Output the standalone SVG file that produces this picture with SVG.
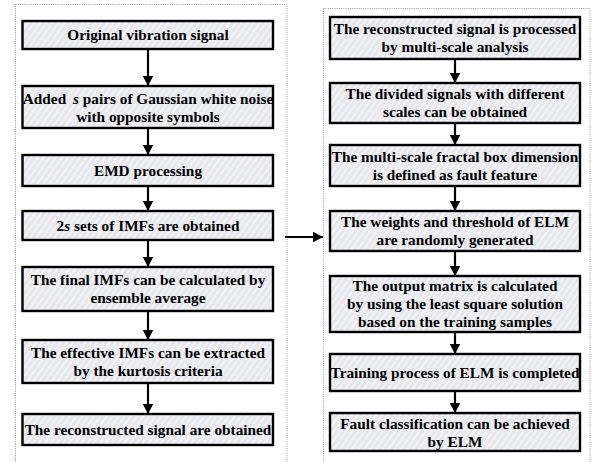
<svg xmlns="http://www.w3.org/2000/svg" width="596" height="462" viewBox="0 0 596 462">
<defs>
<pattern id="hatch" patternUnits="userSpaceOnUse" width="5" height="5" patternTransform="rotate(35)">
<rect width="5" height="5" fill="#e7e7ee"/>
<line x1="1" y1="0" x2="1" y2="5" stroke="#f6f6f9" stroke-width="1.6"/>
</pattern>
<marker id="ah" markerUnits="userSpaceOnUse" markerWidth="12" markerHeight="12" refX="10.5" refY="5.5" orient="auto">
<path d="M0,0 L10.5,5.5 L0,11 z" fill="#000"/>
</marker>
<style>
.box{fill:url(#hatch);stroke:#000;stroke-width:2.4}
.panel{fill:none;stroke:#9a9a9a;stroke-width:1;stroke-dasharray:1 1.2}
.t{font-family:'Liberation Serif','Times New Roman',serif;font-weight:700;font-size:15.3px;fill:#000;text-anchor:middle}
.c{stroke:#000;stroke-width:2.2;fill:none;marker-end:url(#ah)}
.i{font-style:italic}
</style>
</defs>
<rect width="596" height="462" fill="#fff"/>
<rect class="panel" x="15.5" y="4.5" width="271.5" height="470"/>
<rect class="panel" x="323.5" y="8.5" width="266.5" height="470"/>

<g id="connectors">
<line class="c" x1="148" y1="49" x2="148" y2="86"/>
<line class="c" x1="148" y1="128" x2="148" y2="155"/>
<line class="c" x1="148" y1="186" x2="148" y2="211"/>
<line class="c" x1="148" y1="240" x2="148" y2="267"/>
<line class="c" x1="148" y1="311" x2="148" y2="340"/>
<line class="c" x1="148" y1="383" x2="148" y2="414"/>
<line class="c" x1="285" y1="237" x2="323" y2="237"/>
<line class="c" x1="455" y1="59" x2="455" y2="83"/>
<line class="c" x1="455" y1="123" x2="455" y2="145"/>
<line class="c" x1="455" y1="186" x2="455" y2="211"/>
<line class="c" x1="455" y1="251" x2="455" y2="276"/>
<line class="c" x1="455" y1="332" x2="455" y2="354"/>
<line class="c" x1="455" y1="391" x2="455" y2="413"/>
</g>

<g font-family="Liberation Serif, Times New Roman, serif">
<g id="n1"><rect class="box" x="22.5" y="21" width="250.5" height="28"/>
<text class="t" x="148" y="40">Original vibration signal</text></g>
<g id="n2"><rect class="box" x="22.5" y="86" width="250.5" height="42"/>
<text class="t" x="148" y="103.5">Added <tspan class="i" dx="3">s</tspan> pairs of Gaussian white noise</text>
<text class="t" x="148" y="121.5">with opposite symbols</text></g>
<g id="n3"><rect class="box" x="22.5" y="155" width="250.5" height="31"/>
<text class="t" x="148" y="175.5">EMD processing</text></g>
<g id="n4"><rect class="box" x="22.5" y="211" width="250.5" height="29"/>
<text class="t" x="148" y="230.5">2<tspan class="i">s</tspan> sets of IMFs are obtained</text></g>
<g id="n5"><rect class="box" x="22.5" y="267" width="250.5" height="44"/>
<text class="t" x="148" y="285">The final IMFs can be calculated by</text>
<text class="t" x="148" y="303">ensemble average</text></g>
<g id="n6"><rect class="box" x="22.5" y="340" width="250.5" height="43"/>
<text class="t" x="148" y="357.5">The effective IMFs can be extracted</text>
<text class="t" x="148" y="375.5">by the kurtosis criteria</text></g>
<g id="n7"><rect class="box" x="22.5" y="414" width="250.5" height="31"/>
<text class="t" x="148" y="434.5">The reconstructed signal are obtained</text></g>

<g id="m1"><rect class="box" x="330" y="17" width="250" height="42"/>
<text class="t" x="455" y="34">The reconstructed signal is processed</text>
<text class="t" x="455" y="52">by multi-scale analysis</text></g>
<g id="m2"><rect class="box" x="330" y="83" width="250" height="40"/>
<text class="t" x="455" y="99">The divided signals with different</text>
<text class="t" x="455" y="117">scales can be obtained</text></g>
<g id="m3"><rect class="box" x="330" y="145" width="250" height="41"/>
<text class="t" x="455" y="161.5">The multi-scale fractal box dimension</text>
<text class="t" x="455" y="179.5">is defined as fault feature</text></g>
<g id="m4"><rect class="box" x="330" y="211" width="250" height="40"/>
<text class="t" x="455" y="227">The weights and threshold of ELM</text>
<text class="t" x="455" y="245">are randomly generated</text></g>
<g id="m5"><rect class="box" x="330" y="276" width="250" height="56"/>
<text class="t" x="455" y="291">The output matrix is calculated</text>
<text class="t" x="455" y="309">by using the least square solution</text>
<text class="t" x="455" y="327">based on the training samples</text></g>
<g id="m6"><rect class="box" x="330" y="354" width="250" height="37"/>
<text class="t" x="455" y="377.5">Training process of ELM is completed</text></g>
<g id="m7"><rect class="box" x="330" y="413" width="250" height="38"/>
<text class="t" x="455" y="428.5">Fault classification can be achieved</text>
<text class="t" x="455" y="446.5">by ELM</text></g>
</g>
</svg>
